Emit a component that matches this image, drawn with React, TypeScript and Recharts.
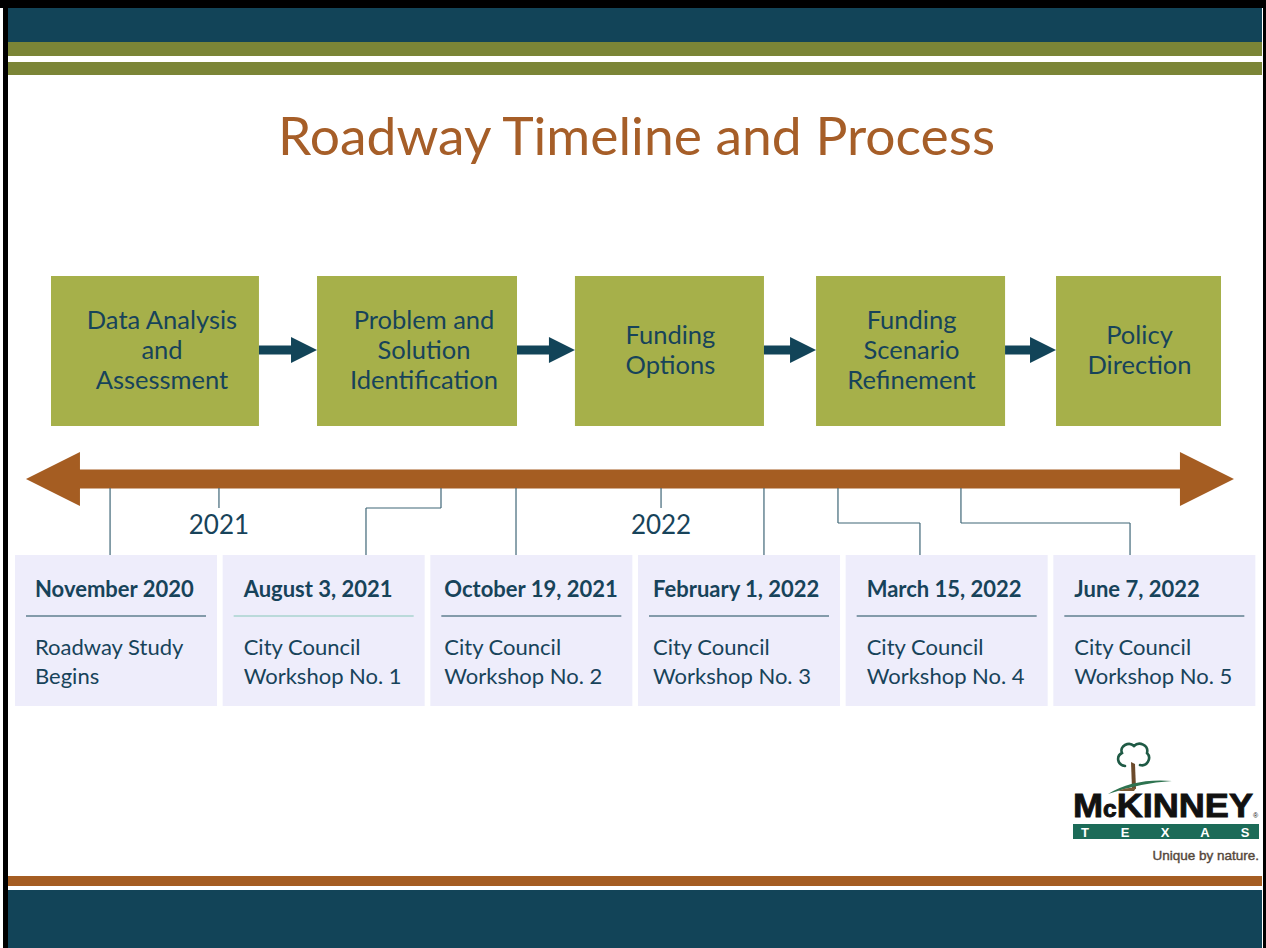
import React from "react";
import { ComposedChart, Bar, XAxis, YAxis, ReferenceArea, ReferenceLine } from "recharts";

// ---- data (x positions are on the timeline axis, 0-100) ----
const steps = [
  ["Data Analysis", "and", "Assessment"],
  ["Problem and", "Solution", "Identification"],
  ["Funding", "Options"],
  ["Funding", "Scenario", "Refinement"],
  ["Policy", "Direction"],
];
const stepStart = [3.13, 24.48, 45.18, 64.53, 83.79];
const stepEnd = [19.82, 40.53, 60.35, 79.7, 97.03];

const timelineStart = 1.12;
const timelineEnd = 98.07;

const years = ["2021", "2022"];
const yearPos = [16.61, 52.09];

const dates = [
  "November 2020",
  "August 3, 2021",
  "October 19, 2021",
  "February 1, 2022",
  "March 15, 2022",
  "June 7, 2022",
];
const events = [
  ["Roadway Study", "Begins"],
  ["City Council", "Workshop No. 1"],
  ["City Council", "Workshop No. 2"],
  ["City Council", "Workshop No. 3"],
  ["City Council", "Workshop No. 4"],
  ["City Council", "Workshop No. 5"],
];
const anchorPos = [7.87, 34.43, 40.45, 60.35, 66.29, 76.16];
const dropPos = [7.87, 28.41, 40.45, 60.35, 72.87, 89.73];

const milestones = dates.map((date, i) => ({
  date,
  event: events[i],
  anchor: anchorPos[i],
  drop: dropPos[i],
}));

// ---- layout / style ----
const W = 1266;
const H = 948;
const FONT = "Lato, 'Open Sans', sans-serif";
const TEAL = "#124458";
const OLIVE = "#7b8537";
const BOX = "#a6b04a";
const BROWN = "#a55d22";
const TEXT = "#17435a";
const CARD = "#eeedfb";
const LINE = "#3f6677";

const BOX_TOP = 276;
const BOX_BOTTOM = 426;
const ARROW_TOP = 337;
const ARROW_BOTTOM = 363;
const TL_TOP = 452;
const TL_BOTTOM = 506;
const TL_EDGE = 488;
const CARD_TOP = 555;
const CARD_BOTTOM = 706;
const ELBOW = [0, 508, 0, 0, 523, 523];
const INSET = [20, 21, 14, 15, 21, 21];
const SEP = ["#5f7f8f", "#a9d3cf", "#5f7f8f", "#5f7f8f", "#5f7f8f", "#5f7f8f"];
const TEXT_DX = [7, 7, 1, 1, 1];

const ok = (...v: number[]) => v.every((n) => Number.isFinite(n));

const StepBox = (lines: string[], i: number) => (p: any) => {
  const { x, y, width, height } = p;
  if (!ok(x, y, width, height)) return <g />;
  const top = Math.min(y, y + height);
  const h = Math.abs(height);
  const cy = top + h / 2 - 2;
  const n = lines.length;
  return (
    <g>
      <rect x={x} y={top} width={width} height={h} fill={BOX} />
      {lines.map((t, k) => (
        <text
          key={k}
          x={x + width / 2 + TEXT_DX[i]}
          y={cy + (k - (n - 1) / 2) * 30}
          textAnchor="middle"
          dominantBaseline="central"
          fontFamily={FONT}
          fontSize={25.5}
          fill={TEXT}
        >
          {t}
        </text>
      ))}
    </g>
  );
};

const StepArrow = (p: any) => {
  const { x, y, width, height } = p;
  if (!ok(x, y, width, height)) return <g />;
  const top = Math.min(y, y + height);
  const h = Math.abs(height);
  const cy = top + h / 2;
  const head = 26;
  const s = 4.5;
  const hx = x + width - head;
  const pts = [
    [x, cy - s], [hx, cy - s], [hx, top], [x + width, cy],
    [hx, top + h], [hx, cy + s], [x, cy + s],
  ];
  return <polygon points={pts.map((q) => q.join(",")).join(" ")} fill={TEAL} />;
};

const TimelineArrow = (p: any) => {
  const { x, y, width, height } = p;
  if (!ok(x, y, width, height)) return <g />;
  const top = Math.min(y, y + height);
  const h = Math.abs(height);
  const cy = top + h / 2;
  const head = 54;
  const s = 9.5;
  const pts = [
    [x, cy], [x + head, top], [x + head, cy - s], [x + width - head, cy - s],
    [x + width - head, top], [x + width, cy], [x + width - head, top + h],
    [x + width - head, cy + s], [x + head, cy + s], [x + head, top + h],
  ];
  return <polygon points={pts.map((q) => q.join(",")).join(" ")} fill={BROWN} />;
};

const YearTick = (p: any) => {
  const { x, payload } = p;
  if (!ok(x)) return <g />;
  const idx = yearPos.indexOf(payload.value);
  if (idx < 0) return <g />;
  return (
    <g>
      <line x1={x} x2={x} y1={TL_EDGE} y2={508} stroke={LINE} strokeWidth={1.2} />
      <text
        x={x}
        y={524}
        textAnchor="middle"
        dominantBaseline="central"
        fontFamily={FONT}
        fontSize={26}
        fill={TEXT}
      >
        {years[idx]}
      </text>
    </g>
  );
};

const Card = (p: any) => {
  const { x, y, width, height, index, payload } = p;
  const top = Math.min(y, y + height);
  const h = Math.abs(height);
  const tx = x + INSET[index];
  return (
    <g>
      <rect x={x} y={top} width={width} height={h} fill={CARD} />
      <text x={tx} y={top + 42} fontFamily={FONT} fontSize={22} fontWeight={700} fill={TEXT}>
        {payload.date}
      </text>
      <line x1={x + 11} x2={x + width - 11} y1={top + 61} y2={top + 61} stroke={SEP[index]} strokeWidth={1.5} />
      {payload.event.map((t: string, k: number) => (
        <text key={k} x={tx} y={top + 100 + k * 28.5} fontFamily={FONT} fontSize={22} fill={TEXT}>
          {t}
        </text>
      ))}
    </g>
  );
};

function Logo() {
  const texas = ["T", "E", "X", "A", "S"];
  return (
    <g>
      <path
        d="M1125,766 C1117,765 1116,756 1122,753 C1119,746 1129,741 1134,746 C1139,741 1149,745 1147,753 C1152,758 1147,767 1140,765"
        fill="none"
        stroke="#1f5a45"
        strokeWidth={2.6}
        strokeLinecap="round"
      />
      <path d="M1131,762 L1135,764 L1136,789 L1132,789 Z" fill="#6b4a2b" />
      <path d="M1108,794 Q1134,778 1172,781 Q1140,783 1108,794 Z" fill="#2e7350" />
      <path d="M1118,791 Q1128,787 1136,788 L1134,791 Z" fill="#7a5a36" />
      <text
        x={1073}
        y={817}
        fontFamily="'Liberation Sans', Arial, sans-serif"
        fontWeight={700}
        fill="#111"
        stroke="#111"
        strokeWidth={0.9}
        textLength={180}
        lengthAdjust="spacingAndGlyphs"
      >
        <tspan fontSize={34}>M</tspan>
        <tspan fontSize={23}>c</tspan>
        <tspan fontSize={34}>KINNEY</tspan>
      </text>
      <text x={1253} y={818} fontFamily="'Liberation Sans', Arial, sans-serif" fontSize={7} fill="#111">
        ®
      </text>
      <rect x={1073} y={824} width={186} height={15} fill="#1c6b58" />
      {texas.map((l, i) => (
        <text
          key={l}
          x={1085 + i * 40}
          y={832}
          textAnchor="middle"
          dominantBaseline="central"
          fontFamily="'Liberation Sans', Arial, sans-serif"
          fontWeight={700}
          fontSize={13}
          fill="#fff"
        >
          {l}
        </text>
      ))}
      <text
        x={1259}
        y={860}
        textAnchor="end"
        fontFamily="'Liberation Sans', Arial, sans-serif"
        fontSize={13.5}
        fill="#55473b"
        stroke="#55473b"
        strokeWidth={0.4}
      >
        Unique by nature.
      </text>
    </g>
  );
}

export default function App() {
  const abs = (l: number, t: number, w: number, h: number, bg: string): React.CSSProperties => ({
    position: "absolute",
    left: l,
    top: t,
    width: w,
    height: h,
    background: bg,
  });
  return (
    <div style={{ position: "absolute", left: 0, top: 0, width: W, height: H, background: "#fff", overflow: "hidden" }}>
      {/* slide frame and bands */}
      <div style={abs(0, 0, W, 8, "#000")} />
      <div style={abs(3, 0, 5, H, "#000")} />
      <div style={abs(1263, 0, 3, H, "#000")} />
      <div style={abs(8, 8, 1254, 34, TEAL)} />
      <div style={abs(8, 42, 1254, 14, OLIVE)} />
      <div style={abs(8, 62, 1254, 13, OLIVE)} />
      <div style={abs(8, 876, 1254, 10, BROWN)} />
      <div style={abs(8, 890, 1254, 58, TEAL)} />

      <svg style={{ position: "absolute", left: 0, top: 0 }} width={W} height={H}>
        <text
          x={636.5}
          y={155}
          textAnchor="middle"
          fontFamily={FONT}
          fontSize={52}
          fill="#a65e28"
          textLength={717}
          lengthAdjust="spacingAndGlyphs"
        >
          Roadway Timeline and Process
        </text>
        <Logo />
      </svg>

      <div style={{ position: "absolute", left: 0, top: 0 }}>
        <ComposedChart width={W} height={H} data={milestones} margin={{ top: 0, right: 8, bottom: 0, left: 12 }}>
          <XAxis xAxisId="m" dataKey="date" type="category" hide />
          <XAxis
            xAxisId="t"
            dataKey="anchor"
            type="number"
            domain={[0, 100]}
            allowDataOverflow
            ticks={yearPos}
            interval={0}
            height={1}
            axisLine={false}
            tickLine={false}
            tick={<YearTick />}
          />
          <YAxis yAxisId="v" type="number" domain={[0, H - 1]} reversed allowDataOverflow hide />

          {steps.map((lines, i) => (
            <ReferenceArea
              key={`s${i}`}
              xAxisId="t"
              yAxisId="v"
              x1={stepStart[i]}
              x2={stepEnd[i]}
              y1={BOX_TOP}
              y2={BOX_BOTTOM}
              ifOverflow="visible"
              shape={StepBox(lines, i)}
            />
          ))}
          {steps.slice(1).map((_, i) => (
            <ReferenceArea
              key={`a${i}`}
              xAxisId="t"
              yAxisId="v"
              x1={stepEnd[i]}
              x2={stepStart[i + 1]}
              y1={ARROW_TOP}
              y2={ARROW_BOTTOM}
              ifOverflow="visible"
              shape={StepArrow}
            />
          ))}

          {milestones.map((m, i) =>
            ELBOW[i]
              ? [
                  <ReferenceLine key={`c${i}a`} xAxisId="t" yAxisId="v" stroke={LINE} strokeWidth={1.2} ifOverflow="visible"
                    segment={[{ x: m.anchor, y: TL_EDGE }, { x: m.anchor, y: ELBOW[i] }]} />,
                  <ReferenceLine key={`c${i}b`} xAxisId="t" yAxisId="v" stroke={LINE} strokeWidth={1.2} ifOverflow="visible"
                    segment={[{ x: m.anchor, y: ELBOW[i] }, { x: m.drop, y: ELBOW[i] }]} />,
                  <ReferenceLine key={`c${i}c`} xAxisId="t" yAxisId="v" stroke={LINE} strokeWidth={1.2} ifOverflow="visible"
                    segment={[{ x: m.drop, y: ELBOW[i] }, { x: m.drop, y: CARD_TOP }]} />,
                ]
              : (
                  <ReferenceLine key={`c${i}`} xAxisId="t" yAxisId="v" stroke={LINE} strokeWidth={1.2} ifOverflow="visible"
                    segment={[{ x: m.anchor, y: TL_EDGE }, { x: m.anchor, y: CARD_TOP }]} />
                )
          )}

          <ReferenceArea
            xAxisId="t"
            yAxisId="v"
            x1={timelineStart}
            x2={timelineEnd}
            y1={TL_TOP}
            y2={TL_BOTTOM}
            ifOverflow="visible"
            shape={TimelineArrow}
          />

          <Bar
            xAxisId="m"
            yAxisId="v"
            dataKey={() => [CARD_TOP, CARD_BOTTOM]}
            barSize={202}
            shape={Card}
            isAnimationActive={false}
          />
        </ComposedChart>
      </div>
    </div>
  );
}
